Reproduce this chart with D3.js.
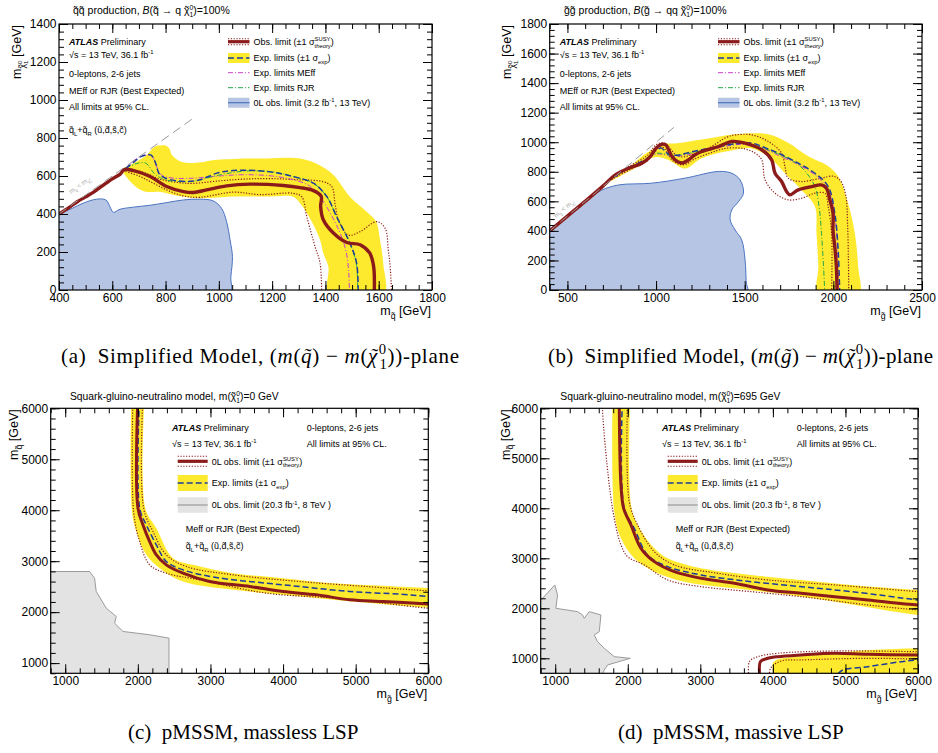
<!DOCTYPE html>
<html>
<head>
<meta charset="utf-8">
<script src="https://cdn.jsdelivr.net/npm/d3@7"></script>
<style>
  body { margin: 0; background: #fff; }
  svg { display: block; font-family: "Liberation Sans", Arial, Helvetica, sans-serif; }
  .cap { font-family: "Liberation Serif", "Times New Roman", serif; }
</style>
</head>
<body>
<svg id="fig" width="938" height="753"></svg>
<script>
// ---------- (a) squark pair production: m(squark) vs m(neutralino), GeV
const aXTicks = [400, 600, 800, 1000, 1200, 1400, 1600, 1800];
const aYTicks = [0, 200, 400, 600, 800, 1000, 1200, 1400];
const aPrev = [[380,381],[400,399],[450,430],[491,457],[541,478],[576,474],[591,439],[604,409],[629,425],[679,436],[742,446],[804,460],[867,474],[929,478],[979,469],[1010,430],[1029,360],[1042,263],[1051,176],[1045,70],[1038,-30],[380,-30]];
const aBandUp = [[636,636],[679,667],[729,711],[755,750],[772,760],[800,760],[815,742],[823,712],[854,678],[904,668],[992,685],[1054,690],[1179,692],[1305,692],[1380,655],[1430,605],[1492,491],[1555,412],[1590,360],[1605,263],[1617,140],[1618,-30]];
const aBandDn = [[1414,-30],[1411,123],[1392,193],[1380,263],[1342,377],[1305,457],[1279,491],[1179,492],[1054,492],[929,483],[850,495],[775,517],[725,517],[688,544],[650,600],[636,630]];
const aObs = [[400,400],[440,436],[470,466],[500,490],[530,515],[560,545],[600,585],[630,610],[645,634],[680,628],[742,597],[804,545],[867,518],[904,513],[954,527],[1029,548],[1117,557],[1242,550],[1305,539],[1355,523],[1384,494],[1382,440],[1392,370],[1430,300],[1480,250],[1530,238],[1566,195],[1581,123],[1583,-30]];
const aObsUp = [[650,642],[720,618],[780,583],[850,565],[900,561],[1000,574],[1100,584],[1200,586],[1300,580],[1392,570],[1424,544],[1436,456],[1449,368],[1486,289],[1530,307],[1593,360],[1624,325],[1636,211],[1643,123],[1649,-30]];
const aObsDn = [[640,628],[700,600],[742,571],[804,527],[867,495],[929,488],[1054,515],[1154,502],[1279,509],[1311,491],[1330,386],[1361,228],[1380,140],[1386,-30]];
const aExp = [[650,640],[680,672],[707,702],[744,711],[763,667],[775,614],[800,588],[879,571],[929,580],[992,615],[1054,629],[1179,624],[1279,597],[1355,562],[1405,492],[1442,386],[1492,246],[1517,141],[1523,-30]];
const aMeff = [[650,640],[690,690],[720,708],[748,705],[765,655],[785,605],[820,590],[900,588],[1000,600],[1100,607],[1200,600],[1280,580],[1340,548],[1385,480],[1420,400],[1455,300],[1478,200],[1488,80],[1490,-30]];
const aRjr = [[650,640],[690,665],[725,668],[760,610],[800,580],[900,572],[1000,605],[1100,626],[1200,622],[1280,597],[1355,562],[1405,492],[1442,386],[1492,246],[1516,141],[1521,-30]];
const aDiag = [[400,400],[900,900]];

// ---------- (b) gluino pair production: m(gluino) vs m(neutralino), GeV
const bXTicks = [500, 1000, 1500, 2000, 2500];
const bYTicks = [0, 200, 400, 600, 800, 1000, 1200, 1400, 1600, 1800];
const bPrev = [[380,381],[404,404],[500,500],[600,600],[658,650],[695,677],[789,711],[977,723],[1164,757],[1352,802],[1427,790],[1474,745],[1493,655],[1465,598],[1427,542],[1418,474],[1446,406],[1483,339],[1502,203],[1508,60],[1511,-30],[380,-30]];
const bBandUp = [[730,730],[800,800],[870,852],[920,905],[995,962],[1030,987],[1108,992],[1258,1018],[1446,1054],[1633,1054],[1745,996],[1858,905],[1971,838],[2027,770],[2083,587],[2121,384],[2140,158],[2143,-30]];
const bBandDn = [[1915,-30],[1915,158],[1905,384],[1896,565],[1821,677],[1727,790],[1633,903],[1539,958],[1446,949],[1258,892],[1164,822],[1100,860],[1070,880],[995,900],[920,850],[850,805],[760,745]];
const bObs = [[400,400],[500,500],[600,600],[700,703],[770,779],[845,824],[920,858],[967,903],[1000,960],[1030,985],[1055,982],[1072,945],[1092,900],[1120,870],[1150,860],[1182,880],[1220,915],[1258,937],[1352,971],[1427,1005],[1502,994],[1596,949],[1652,881],[1671,790],[1708,734],[1736,666],[1755,644],[1802,678],[1877,700],[1932,711],[1961,689],[1980,610],[1998,519],[1998,406],[2008,294],[2017,158],[2021,-30]];
const bObsUp = [[750,760],[850,838],[950,910],[1000,982],[1040,997],[1075,965],[1110,915],[1150,900],[1200,915],[1300,962],[1400,1035],[1450,1050],[1539,1050],[1633,1005],[1708,926],[1727,836],[1745,757],[1821,734],[1932,757],[2000,770],[2040,740],[2070,640],[2080,450],[2085,200],[2087,-30]];
const bObsDn = [[750,750],[850,812],[950,875],[1000,950],[1035,968],[1062,930],[1090,880],[1130,850],[1170,852],[1210,882],[1300,925],[1400,960],[1500,955],[1560,925],[1596,881],[1615,745],[1671,655],[1745,610],[1821,621],[1896,655],[1952,655],[1971,565],[1990,384],[1990,-30]];
const bExp = [[760,760],[850,830],[950,890],[1000,945],[1030,960],[1060,928],[1108,912],[1200,935],[1352,971],[1450,990],[1539,994],[1620,960],[1690,926],[1802,858],[1896,790],[1971,700],[2008,519],[2027,271],[2036,-30]];
const bMeff = [[760,760],[850,825],[950,885],[1000,920],[1050,915],[1100,905],[1200,920],[1300,945],[1400,975],[1500,985],[1600,960],[1700,905],[1800,850],[1900,775],[1965,690],[2000,560],[2020,350],[2030,-30]];
const bRjr = [[760,760],[850,828],[950,888],[1000,925],[1050,920],[1100,908],[1200,928],[1300,955],[1400,985],[1500,992],[1600,962],[1700,915],[1792,858],[1850,790],[1896,700],[1920,560],[1933,384],[1945,150],[1952,-30]];
const bDiag = [[400,400],[1100,1100]];

// ---------- (c) pMSSM, massless LSP: m(gluino) vs m(squark), GeV
const cXTicks = [1000, 2000, 3000, 4000, 5000, 6000];
const cYTicks = [1000, 2000, 3000, 4000, 5000, 6000];
const cPrev = [[780,2797],[1335,2797],[1404,2667],[1427,2405],[1565,2078],[1703,1915],[1680,1784],[1795,1621],[2163,1556],[2429,1490],[2429,780],[780,780]];
const cBandUp = [[2094,6300],[2103,4039],[2255,3647],[2484,3059],[2760,2928],[3311,2765],[4001,2667],[4690,2569],[5379,2516],[6000,2471],[6300,2460]];
const cBandDn = [[6300,2080],[6000,2091],[5379,2157],[4690,2242],[4001,2340],[3311,2438],[2622,2601],[2301,2863],[2117,3124],[1979,3582],[1919,3974],[1910,6300]];
const cObs = [[2002,6300],[2002,4039],[2071,3712],[2163,3386],[2255,3124],[2392,2928],[2622,2765],[2990,2601],[3541,2503],[4001,2405],[4460,2340],[4920,2242],[5379,2209],[6000,2160],[6300,2140]];
const cObsUp = [[2071,6300],[2080,4039],[2209,3582],[2392,3124],[2668,2895],[3311,2732],[4230,2601],[5149,2503],[6000,2418],[6300,2400]];
const cObsDn = [[1933,6300],[1942,3974],[2025,3386],[2163,2928],[2392,2765],[2852,2634],[3771,2373],[4690,2275],[5379,2176],[6000,2078],[6300,2060]];
const cExp = [[2025,6300],[2025,4039],[2117,3712],[2255,3320],[2392,2993],[2622,2830],[3082,2680],[3771,2569],[4230,2503],[4920,2405],[5609,2353],[6000,2307],[6300,2290]];

// ---------- (d) pMSSM, massive LSP (695 GeV)
const dXTicks = [1000, 2000, 3000, 4000, 5000, 6000];
const dYTicks = [1000, 2000, 3000, 4000, 5000, 6000];
const dPrev = [[780,2150],[825,2200],[995,2467],[1032,2267],[1009,2000],[1308,1933],[1377,1867],[1400,1800],[1469,1933],[1630,1867],[1607,1533],[1538,1467],[1584,1333],[1676,1200],[1814,1033],[2035,1000],[1722,867],[1676,767],[1653,680],[780,680]];
const dBandUp = [[2035,6300],[2044,4067],[2136,3667],[2366,3200],[2550,3000],[3010,2800],[3700,2667],[4390,2567],[5080,2467],[6000,2367],[6300,2340]];
const dBandDn = [[6300,1840],[6000,1867],[4850,2133],[4160,2280],[3470,2400],[2780,2533],[2366,2733],[2090,3000],[1906,3400],[1814,3933],[1791,6300]];
const dObs = [[1883,6300],[1883,6000],[1906,4467],[1943,4000],[2044,3667],[2182,3200],[2366,2933],[2642,2733],[3010,2600],[3470,2500],[3930,2367],[4390,2300],[4850,2233],[5310,2167],[6000,2067],[6300,2050]];
const dObsUp = [[1998,6300],[2021,4133],[2136,3667],[2366,3133],[2642,2867],[3240,2700],[3930,2567],[4850,2467],[6000,2333],[6300,2300]];
const dObsDn = [[1653,6300],[1653,5933],[1745,4467],[1814,3800],[1906,3267],[1998,3033],[2228,2867],[2550,2567],[3010,2433],[3700,2333],[4390,2233],[5310,2067],[6000,1967],[6300,1940]];
const dExp = [[1929,6300],[1952,4000],[2090,3600],[2274,3067],[2550,2833],[3010,2667],[3700,2533],[4390,2433],[5080,2333],[6000,2167],[6300,2120]];
// low-squark-mass island
const dLowBand = [[4000,650],[4000,700],[4013,933],[4390,1040],[5310,1160],[6000,1200],[6300,1210],[6300,650]];
const dLowObs = [[3815,650],[3815,700],[3829,933],[3930,1000],[4068,1033],[4390,1067],[4850,1100],[5310,1080],[6000,1067],[6300,1067]];
const dLowUp = [[3668,650],[3677,933],[3792,1033],[4068,1100],[4850,1147],[6000,1133],[6300,1133]];
const dLowDn = [[3953,650],[3967,800],[4114,947],[4390,967],[5310,1000],[6000,987],[6300,987]];
const dLowExp = [[4900,690],[4965,767],[5310,833],[5770,933],[6000,967],[6300,990]];

// ---------- styles
const RED = '#8b1a1a', YEL = '#fde92e', BLUE = '#1c3c9c', MAG = '#cc3fcc', GRN = '#22a84a';
const PREV_FILL = '#b6c5e3', PREV_LINE = '#4a74c0', GREY_FILL = '#e3e3e3', GREY_LINE = '#9a9a9a';
const DOT = '1.2,1.6', DASH = '6,3', DASHDOT = '5,2,1,2';

const svg = d3.select('#fig');

// text with tspans; parts: string or {t, y (baseline shift in em), s (size), it, b, back (stack on previous), acc (accent over previous)}
function rich(parent, x, y, fs, parts, anchor) {
  const t = parent.append('text').attr('x', x).attr('y', y).attr('font-size', fs)
    .attr('text-anchor', anchor || 'start');
  let base = 0, prev = null, pend = 0;
  parts.forEach(q => {
    const p = typeof q === 'string' ? { t: q } : q;
    if (p.acc && prev) {
      const wp = prev.node().getComputedTextLength();
      const a = t.append('tspan').attr('font-size', prev.attr('font-size')).attr('dy', 0).text(p.t);
      if (prev.attr('font-style')) a.attr('font-style', prev.attr('font-style'));
      const wa = a.node().getComputedTextLength();
      a.attr('dx', -(wp + wa) / 2 + (p.sh || 0));
      pend = (wp - wa) / 2 - (p.sh || 0);
      return;
    }
    const off = fs * (p.y || 0);
    const s = t.append('tspan').attr('font-size', fs * (p.s || 1)).attr('dy', off - base).text(p.t);
    base = off;
    if (p.it) s.attr('font-style', 'italic');
    if (p.b) s.attr('font-weight', 'bold');
    let dx = pend;
    pend = 0;
    if (p.back && prev) dx -= prev.node().getComputedTextLength();
    if (dx) s.attr('dx', dx);
    prev = s;
  });
  return t;
}
const sup = (t, s = 0.65) => ({ t, y: -0.42, s });
const sub = (t, s = 0.65) => ({ t, y: 0.28, s });
const subB = (t, s = 0.65) => ({ t, y: 0.28, s, back: true });
const TIL = { t: '\u02dc', acc: true };
const CHI = ['χ', TIL];

function makePanel(id, box, xd, yd) {
  const x = d3.scaleLinear().domain(xd).range([box.l, box.r]);
  const y = d3.scaleLinear().domain(yd).range([box.b, box.t]);
  svg.append('clipPath').attr('id', id).append('rect')
    .attr('x', box.l).attr('y', box.t).attr('width', box.r - box.l).attr('height', box.b - box.t);
  const g = svg.append('g');
  const plot = g.append('g').attr('clip-path', `url(#${id})`);
  return { g, plot, x, y, box };
}

function path(p, pts, linear) {
  return d3.line().x(d => p.x(d[0])).y(d => p.y(d[1]))
    .curve(linear ? d3.curveLinear : d3.curveCatmullRom.alpha(0.5))(pts);
}

function fillShape(p, pts, fill, stroke, linear) {
  p.plot.append('path').attr('d', path(p, pts, linear) + 'Z')
    .attr('fill', fill).attr('stroke', stroke || 'none').attr('stroke-width', 1);
}

function curve(p, pts, color, w, dash, linear) {
  p.plot.append('path').attr('d', path(p, pts, linear))
    .attr('fill', 'none').attr('stroke', color).attr('stroke-width', w)
    .attr('stroke-dasharray', dash || null);
}

function axes(p, xt, yt, xStep, yStep) {
  const { g, x, y, box } = p;
  const minors = (s, step) => d3.range(Math.ceil(s.domain()[0] / step) * step, s.domain()[1] + step / 2, step);
  const fmt = d3.format('d');
  const put = (axis, tr) => {
    const a = g.append('g').attr('transform', tr).call(axis);
    a.select('.domain').remove();
    a.attr('font-family', null).attr('font-size', null);
    a.selectAll('line').attr('stroke', '#000');
    a.selectAll('text').attr('font-size', 12).attr('fill', '#000');
    return a;
  };
  put(d3.axisBottom(x).tickValues(xt).tickSize(-9).tickPadding(3.5).tickFormat(fmt), `translate(0,${box.b})`);
  put(d3.axisBottom(x).tickValues(minors(x, xStep)).tickSize(-5).tickFormat(''), `translate(0,${box.b})`);
  put(d3.axisTop(x).tickValues(xt).tickSize(-9).tickFormat(''), `translate(0,${box.t})`);
  put(d3.axisTop(x).tickValues(minors(x, xStep)).tickSize(-5).tickFormat(''), `translate(0,${box.t})`);
  put(d3.axisLeft(y).tickValues(yt).tickSize(-9).tickPadding(2.5).tickFormat(fmt), `translate(${box.l},0)`);
  put(d3.axisLeft(y).tickValues(minors(y, yStep)).tickSize(-5).tickFormat(''), `translate(${box.l},0)`);
  put(d3.axisRight(y).tickValues(yt).tickSize(-9).tickFormat(''), `translate(${box.r},0)`);
  put(d3.axisRight(y).tickValues(minors(y, yStep)).tickSize(-5).tickFormat(''), `translate(${box.r},0)`);
  g.append('rect').attr('x', box.l).attr('y', box.t).attr('width', box.r - box.l).attr('height', box.b - box.t)
    .attr('fill', 'none').attr('stroke', '#000').attr('stroke-width', 1.2);
}

function yTitle(p, tx, ty, parts) {
  const gg = p.g.append('g').attr('transform', `translate(${tx},${ty}) rotate(-90)`);
  rich(gg, 0, 0, 12.5, parts, 'end');
}

// legend symbol + text row
function legendRow(p, kind, x0, x1, yc, h, fs, parts) {
  const g = p.g;
  const ln = (ya, col, w, dash) => g.append('line').attr('x1', x0).attr('x2', x1).attr('y1', ya).attr('y2', ya)
    .attr('stroke', col).attr('stroke-width', w).attr('stroke-dasharray', dash || null);
  if (kind === 'obs') {
    ln(yc - h / 2, RED, 1.1, DOT); ln(yc + h / 2, RED, 1.1, DOT); ln(yc, RED, 3.2);
  } else if (kind === 'exp') {
    g.append('rect').attr('x', x0).attr('y', yc - h / 2).attr('width', x1 - x0).attr('height', h).attr('fill', YEL);
    ln(yc, BLUE, 1.5, DASH);
  } else if (kind === 'meff') {
    ln(yc, MAG, 1, DASHDOT);
  } else if (kind === 'rjr') {
    ln(yc, GRN, 1, DASHDOT);
  } else if (kind === 'prev') {
    g.append('rect').attr('x', x0).attr('y', yc - h / 2).attr('width', x1 - x0).attr('height', h).attr('fill', PREV_FILL);
    ln(yc, PREV_LINE, 1.2);
  } else if (kind === 'grey') {
    g.append('rect').attr('x', x0).attr('y', yc - h / 2).attr('width', x1 - x0).attr('height', h).attr('fill', GREY_FILL);
    ln(yc, GREY_LINE, 1.2);
  }
  rich(g, x1 + 4, yc + 3.3, fs, parts);
}

const sigTheory = ['(\u00b11 \u03c3', sup('SUSY'), subB('theory'), ')'];
const sigExp = ['(\u00b11 \u03c3', sub('exp'), ')'];
const sqrtS = ['\u221as = 13 TeV, 36.1 fb', sup('-1')];
const qLR = ['q\u0303', sub('L'), '+q\u0303', sub('R'), ' (u\u0303,d\u0303,s\u0303,c\u0303)'];
const atlas = [{ t: 'ATLAS', b: true, it: true }, ' Preliminary'];
const chiSub = [{ t: 'χ', y: 0.3, s: 0.7 }, TIL, { t: '0', y: 0.05, s: 0.5 }, { t: '1', y: 0.55, s: 0.5, back: true }];

// ================= simplified-model panels (a), (b)
function simplifiedPanel(id, box, xd, yd, data, o) {
  const P = makePanel(id, box, xd, yd);
  fillShape(P, data.bandUp.concat(data.bandDn), YEL);
  fillShape(P, data.prev, PREV_FILL, PREV_LINE);
  curve(P, data.obsUp, RED, 1.2, DOT);
  curve(P, data.obsDn, RED, 1.2, DOT);
  curve(P, data.meff, MAG, 1, DASHDOT);
  curve(P, data.rjr, GRN, 1, DASHDOT);
  curve(P, data.exp, BLUE, 1.5, DASH);
  curve(P, data.obs, RED, 3.4);
  curve(P, data.diag, '#9a9a9a', 1, '9,5', true);
  axes(P, data.xt, data.yt, o.xStep, o.yStep);

  // kinematic-limit label along the diagonal
  const ang = Math.atan2(P.y(data.diag[0][1]) - P.y(data.diag[1][1]), P.x(data.diag[1][0]) - P.x(data.diag[0][0])) * 180 / Math.PI;
  const dl = P.g.append('g').attr('transform', `translate(${o.diagLab[0]},${o.diagLab[1]}) rotate(${-ang})`).attr('fill', '#aaa');
  rich(dl, 0, 0, 6.5, ['m', sub(o.sp), ' < m', { t: 'χ', y: 0.28, s: 0.65 }, { t: '0', y: 0.05, s: 0.45 }, { t: '1', y: 0.5, s: 0.45, back: true }]);

  rich(P.g, o.title[0], 14, 10.5, o.titleParts);
  const tx = box.l + 10;
  rich(P.g, tx, 45, 9, atlas);
  rich(P.g, tx, 58, 9, sqrtS);
  rich(P.g, tx, 77, 9, ['0-leptons, 2-6 jets']);
  rich(P.g, tx, 94, 9, ['MEff or RJR (Best Expected)']);
  rich(P.g, tx, 110, 9, ['All limits at 95% CL.']);
  if (o.qlr) rich(P.g, tx, 133, 9, qLR);

  const lx = o.legX;
  legendRow(P, 'obs', lx, lx + 21.5, 41.7, 6, 9, ['Obs. limit '].concat(sigTheory));
  legendRow(P, 'exp', lx, lx + 21.5, 58, 10, 9, ['Exp. limits '].concat(sigExp));
  legendRow(P, 'meff', lx, lx + 21.5, 72.7, 0, 9, ['Exp. limits MEff']);
  legendRow(P, 'rjr', lx, lx + 21.5, 87.7, 0, 9, ['Exp. limits RJR']);
  legendRow(P, 'prev', lx, lx + 21.5, 102.7, 10, 9, ['0L obs. limit (3.2 fb', sup('-1'), ', 13 TeV)']);

  yTitle(P, o.yLab, box.t + 1, ['m'].concat(chiSub, [{ t: ' [GeV]', y: 0 }]));
  rich(P.g, box.r - 1, 315, 12.5, ['m', { t: o.sp, y: 0.3, s: 0.7 }, { t: ' [GeV]', y: 0 }], 'end');
  return P;
}

simplifiedPanel('clipA', { l: 59, r: 432, t: 24, b: 290 }, [400, 1800], [0, 1400],
  { bandUp: aBandUp, bandDn: aBandDn, prev: aPrev, obs: aObs, obsUp: aObsUp, obsDn: aObsDn, exp: aExp, meff: aMeff, rjr: aRjr, diag: aDiag, xt: aXTicks, yt: aYTicks },
  { xStep: 50, yStep: 40, sp: 'q\u0303', diagLab: [71, 194], title: [73], legX: 228, yLab: 21, qlr: true,
    titleParts: ['q\u0303q\u0303 production, ', { t: 'B', it: true }, '(q\u0303 \u2192 q '].concat(CHI, [sup('0'), subB('1'), { t: ')=100%', y: 0 }]) });

simplifiedPanel('clipB', { l: 549.7, r: 922, t: 24, b: 290 }, [400, 2500], [0, 1800],
  { bandUp: bBandUp, bandDn: bBandDn, prev: bPrev, obs: bObs, obsUp: bObsUp, obsDn: bObsDn, exp: bExp, meff: bMeff, rjr: bRjr, diag: bDiag, xt: bXTicks, yt: bYTicks },
  { xStep: 100, yStep: 40, sp: 'g\u0303', diagLab: [556, 218], title: [564], legX: 718, yLab: 511, qlr: false,
    titleParts: ['g\u0303g\u0303 production, ', { t: 'B', it: true }, '(g\u0303 \u2192 qq '].concat(CHI, [sup('0'), subB('1'), { t: ')=100%', y: 0 }]) });

// ================= pMSSM panels (c), (d)
function pmssmPanel(id, box, yd, data, o) {
  const P = makePanel(id, box, [800, 6000], yd);
  fillShape(P, data.bandUp.concat(data.bandDn), YEL);
  if (data.lowBand) fillShape(P, data.lowBand, YEL);
  fillShape(P, data.prev, GREY_FILL, GREY_LINE, true);
  curve(P, data.obsUp, RED, 1.2, DOT);
  curve(P, data.obsDn, RED, 1.2, DOT);
  curve(P, data.exp, BLUE, 1.5, DASH);
  curve(P, data.obs, RED, 3);
  if (data.lowObs) {
    curve(P, data.lowUp, RED, 1.2, DOT);
    curve(P, data.lowDn, RED, 1.2, DOT);
    curve(P, data.lowExp, BLUE, 1.5, DASH);
    curve(P, data.lowObs, RED, 3);
  }
  axes(P, data.xt, data.yt, 200, 200);

  rich(P.g, o.titleX, 400, 10.3, ['Squark-gluino-neutralino model, m('].concat(CHI, [sup('0'), subB('1'), { t: `)=${o.lsp} GeV`, y: 0 }]));
  const ax = o.atlasX;
  rich(P.g, ax, 431, 9, atlas);
  rich(P.g, ax, 447, 9, sqrtS);
  rich(P.g, ax + 134.7, 431, 9, ['0-leptons, 2-6 jets']);
  rich(P.g, ax + 134.7, 447, 9, ['All limits at 95% CL.']);
  const lx = ax + 5.7;
  legendRow(P, 'obs', lx, lx + 30, 461.3, 10, 9, ['0L obs. limit '].concat(sigTheory));
  legendRow(P, 'exp', lx, lx + 30, 483, 16, 9, ['Exp. limits '].concat(sigExp));
  legendRow(P, 'grey', lx, lx + 30, 505, 15.5, 9, ['0L obs. limit (20.3 fb', sup('-1'), ', 8 TeV )']);
  rich(P.g, ax + 13.7, 532.3, 9, ['Meff or RJR (Best Expected)']);
  rich(P.g, ax + 13.7, 549, 9, qLR);

  yTitle(P, o.yLab, box.t + 1, ['m', { t: 'q\u0303', y: 0.3, s: 0.7 }, { t: ' [GeV]', y: 0 }]);
  rich(P.g, box.r - 1, 698, 12.5, ['m', { t: 'g\u0303', y: 0.3, s: 0.7 }, { t: ' [GeV]', y: 0 }], 'end');
  return P;
}

pmssmPanel('clipC', { l: 50.7, r: 428.3, t: 408.3, b: 673.3 }, [800, 6000],
  { bandUp: cBandUp, bandDn: cBandDn, prev: cPrev, obs: cObs, obsUp: cObsUp, obsDn: cObsDn, exp: cExp, xt: cXTicks, yt: cYTicks },
  { titleX: 70, lsp: 0, atlasX: 172, yLab: 18 });

pmssmPanel('clipD', { l: 540.7, r: 918, t: 408.3, b: 673.3 }, [700, 6000],
  { bandUp: dBandUp, bandDn: dBandDn, prev: dPrev, obs: dObs, obsUp: dObsUp, obsDn: dObsDn, exp: dExp, xt: dXTicks, yt: dYTicks,
    lowBand: dLowBand, lowObs: dLowObs, lowUp: dLowUp, lowDn: dLowDn, lowExp: dLowExp },
  { titleX: 560.3, lsp: 695, atlasX: 662, yLab: 509.5 });

// ================= sub-figure captions
const cap = svg.append('g').attr('class', 'cap');
const capPlane = (letter, sp) => [`(${letter})\u2002Simplified Model, (`, { t: 'm', it: true }, '(', { t: sp, it: true }, ') \u2212 ',
  { t: 'm', it: true }, '(', { t: 'χ', it: true }, TIL, sup('0', 0.7), subB('1', 0.7), { t: '))-plane', y: 0 }];
rich(cap, 61, 363, 21, capPlane('a', 'q\u0303')).attr('textLength', 398).attr('lengthAdjust', 'spacing');
rich(cap, 548, 363, 21, capPlane('b', 'g\u0303')).attr('textLength', 385).attr('lengthAdjust', 'spacing');
rich(cap, 128, 739, 21, ['(c)\u2002pMSSM, massless LSP']);
rich(cap, 618, 739, 21, ['(d)\u2002pMSSM, massive LSP']);
</script>
</body>
</html>
